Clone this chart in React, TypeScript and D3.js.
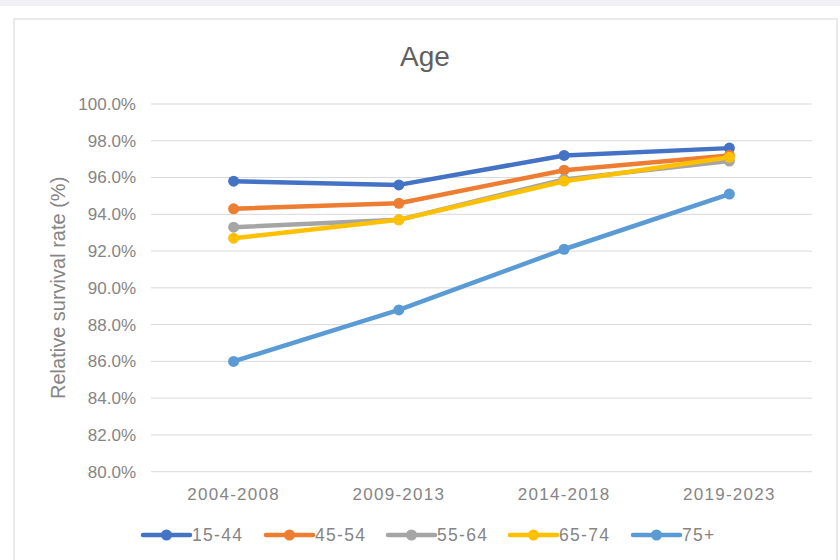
import React from "react";
import * as d3 from "d3";

const periods = ["2004-2008", "2009-2013", "2014-2018", "2019-2023"];
const groups = ["15-44", "45-54", "55-64", "65-74", "75+"];
const colors = ["#4472C4", "#ED7D31", "#A5A5A5", "#FFC000", "#5B9BD5"];

const age15to44 = [95.8, 95.6, 97.2, 97.6];
const age45to54 = [94.3, 94.6, 96.4, 97.2];
const age55to64 = [93.3, 93.7, 95.9, 96.9];
const age65to74 = [92.7, 93.7, 95.8, 97.1];
const age75plus = [86.0, 88.8, 92.1, 95.1];

const yTicks = [80, 82, 84, 86, 88, 90, 92, 94, 96, 98, 100];

const seriesValues = [age15to44, age45to54, age55to64, age65to74, age75plus];

const W = 840;
const H = 560;
const plot = { left: 151, right: 812, top: 104, bottom: 471.7 };
const FONT = "'Liberation Sans', Arial, sans-serif";
const TEXT_GREY = "#858585";

export default function App() {
  const x = d3
    .scaleBand<string>()
    .domain(periods)
    .range([plot.left, plot.right])
    .padding(0);
  const y = d3.scaleLinear().domain([80, 100]).range([plot.bottom, plot.top]);
  const cx = (p: string) => (x(p) ?? 0) + x.bandwidth() / 2;

  const line = d3
    .line<number>()
    .x((_, i) => cx(periods[i]))
    .y((v) => y(v));

  // legend layout
  const legendY = 535;
  const legendStarts = [143, 266, 388, 510, 633];

  return (
    <div style={{ position: "fixed", left: 0, top: 0 }}>
      <svg width={W} height={H} style={{ display: "block" }}>
        <rect x={0} y={0} width={W} height={H} fill="#ffffff" />
        <rect x={0} y={0} width={W} height={6} fill="#f1f1f5" />
        <rect
          x={14}
          y={19}
          width={823}
          height={H}
          fill="#ffffff"
          stroke="#e3e3e3"
          strokeWidth={1.5}
        />

        <text
          x={425}
          y={66}
          textAnchor="middle"
          fontFamily={FONT}
          fontSize={28}
          fill="#5f5f5f"
        >
          Age
        </text>

        {yTicks.map((t) => (
          <g key={t}>
            <line
              x1={plot.left}
              x2={plot.right}
              y1={y(t)}
              y2={y(t)}
              stroke="#d9d9d9"
              strokeWidth={1}
            />
            <text
              x={136}
              y={y(t)}
              dy="0.35em"
              textAnchor="end"
              fontFamily={FONT}
              fontSize={17}
              fill={TEXT_GREY}
            >
              {t.toFixed(1) + "%"}
            </text>
          </g>
        ))}

        <text
          transform={`translate(65, ${(plot.top + plot.bottom) / 2}) rotate(-90)`}
          textAnchor="middle"
          fontFamily={FONT}
          fontSize={20}
          fill={TEXT_GREY}
        >
          Relative survival rate (%)
        </text>

        {periods.map((p) => (
          <text
            key={p}
            x={cx(p)}
            y={494}
            dy="0.35em"
            textAnchor="middle"
            fontFamily={FONT}
            fontSize={17}
            letterSpacing={1.3}
            fill={TEXT_GREY}
          >
            {p}
          </text>
        ))}

        {seriesValues.map((vals, si) => (
          <g key={groups[si]}>
            <path
              d={line(vals) ?? ""}
              fill="none"
              stroke={colors[si]}
              strokeWidth={4.5}
              strokeLinejoin="round"
              strokeLinecap="round"
            />
            {vals.map((v, i) => (
              <circle
                key={i}
                cx={cx(periods[i])}
                cy={y(v)}
                r={5.5}
                fill={colors[si]}
              />
            ))}
          </g>
        ))}

        {groups.map((g, i) => {
          const x0 = legendStarts[i];
          return (
            <g key={g}>
              <line
                x1={x0}
                x2={x0 + 47}
                y1={legendY}
                y2={legendY}
                stroke={colors[i]}
                strokeWidth={4.5}
                strokeLinecap="round"
              />
              <circle cx={x0 + 23.5} cy={legendY} r={5.5} fill={colors[i]} />
              <text
                x={x0 + 49}
                y={legendY}
                dy="0.35em"
                fontFamily={FONT}
                fontSize={17.5}
                letterSpacing={1.3}
                fill={TEXT_GREY}
              >
                {g}
              </text>
            </g>
          );
        })}
      </svg>
    </div>
  );
}
